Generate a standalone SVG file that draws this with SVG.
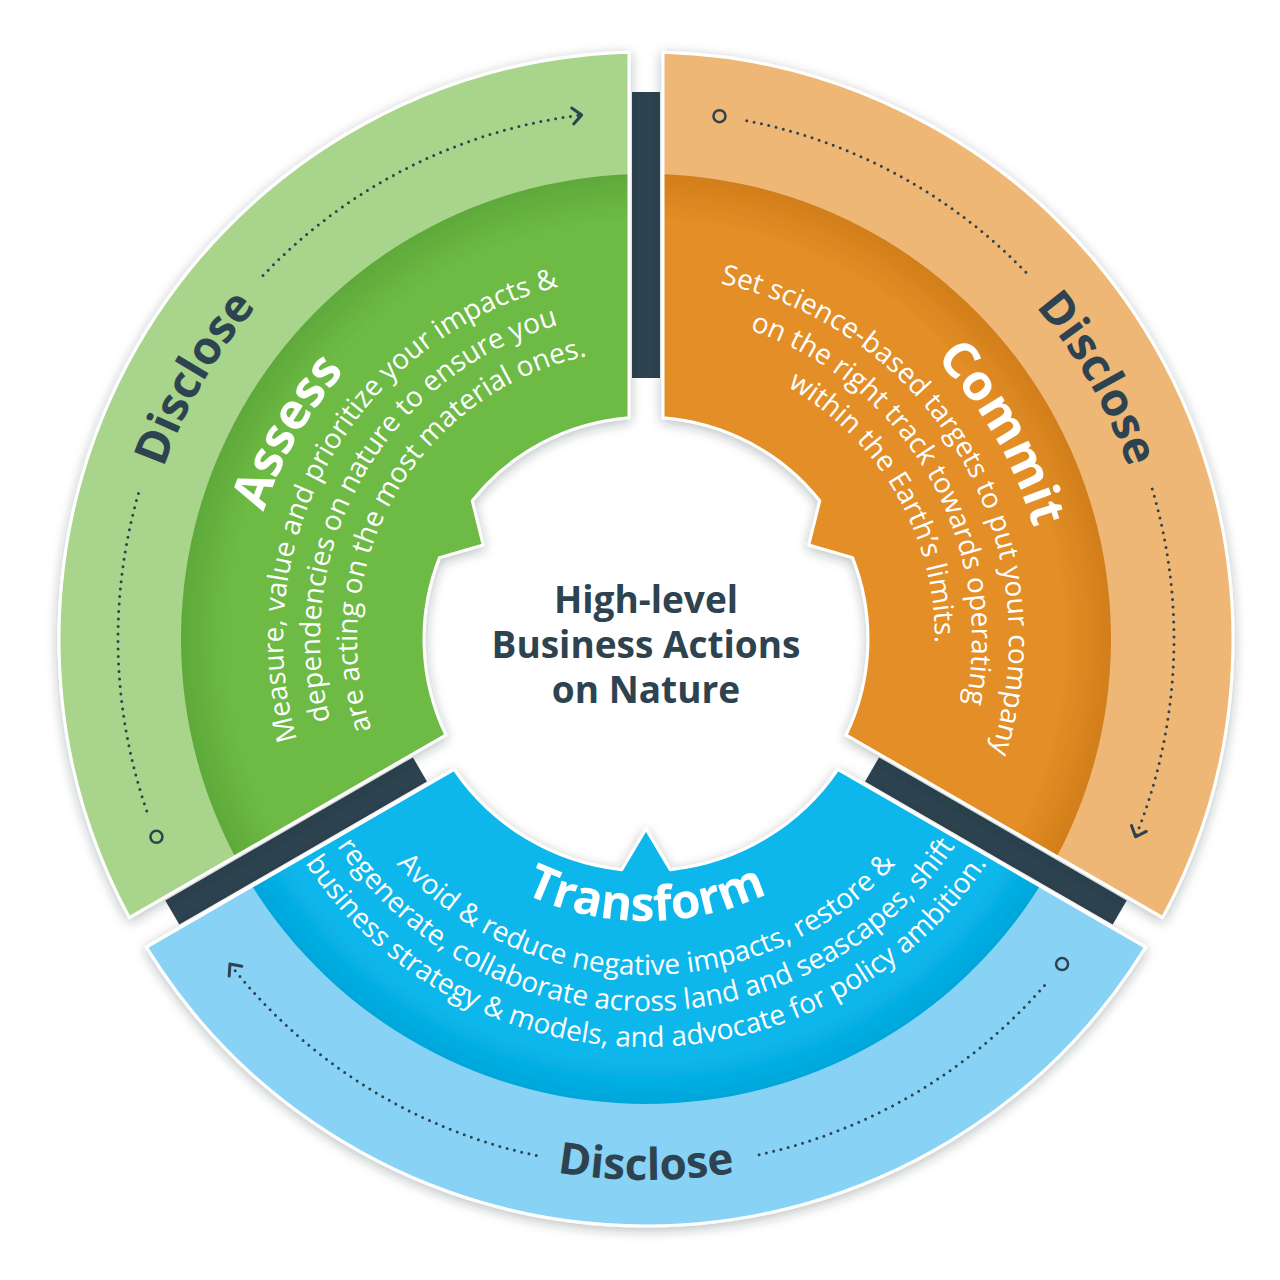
<svg xmlns="http://www.w3.org/2000/svg" width="1280" height="1280" viewBox="0 0 1280 1280">
<style>
.outline{fill:none;stroke:#ffffff;stroke-width:3;stroke-linejoin:round}
.bar{fill:#2d4350}
.dots{fill:none;stroke:#2d4350;stroke-width:3;stroke-linecap:round;stroke-dasharray:0 7.5}
.ring{fill:none;stroke:#2d4350;stroke-width:2.5}
.disc{font-family:"Open Sans","DejaVu Sans",sans-serif;font-weight:700;font-size:46px;fill:#2d4350;text-anchor:middle}
.title{font-family:"Open Sans","DejaVu Sans",sans-serif;font-weight:700;font-size:50px;fill:#ffffff;text-anchor:middle}
.body{font-family:"Open Sans","DejaVu Sans",sans-serif;font-weight:400;font-size:28px;fill:#ffffff;text-anchor:middle}
.center{font-family:"Open Sans","DejaVu Sans",sans-serif;font-weight:700;font-size:37px;fill:#2d4350;text-anchor:middle}
</style>
<defs>
<filter id="sh" x="-15%" y="-15%" width="130%" height="130%">
<feDropShadow dx="0" dy="3" stdDeviation="6" flood-color="#1d2b33" flood-opacity="0.3"/>
</filter>
<radialGradient id="gG" gradientUnits="userSpaceOnUse" cx="646" cy="639" r="465">
<stop offset="0" stop-color="#6dbb44"/><stop offset="0.9" stop-color="#6dbb44"/><stop offset="1" stop-color="#5fa93a"/>
</radialGradient>
<radialGradient id="gO" gradientUnits="userSpaceOnUse" cx="646" cy="639" r="465">
<stop offset="0" stop-color="#e38e25"/><stop offset="0.9" stop-color="#e38e25"/><stop offset="1" stop-color="#d17e1b"/>
</radialGradient>
<radialGradient id="gB" gradientUnits="userSpaceOnUse" cx="646" cy="639" r="465">
<stop offset="0" stop-color="#08b7ec"/><stop offset="0.9" stop-color="#08b7ec"/><stop offset="1" stop-color="#04a6da"/>
</radialGradient>
<marker id="arr" viewBox="-13 -11 16 22" markerWidth="16" markerHeight="22" refX="0" refY="0" orient="auto" markerUnits="userSpaceOnUse">
<path d="M-9,-8 L0,0 L-9,8" fill="none" stroke="#2d4350" stroke-width="3" stroke-linecap="round" stroke-linejoin="round"/>
</marker>
<path id="pGd" d="M 316.89 1031.21 A 512 512 0 0 1 821.11 157.88"/>
<path id="pGt" d="M 386.96 947.71 A 403 403 0 0 1 783.83 260.30"/>
<path id="pG1" d="M 412.67 917.07 A 363 363 0 0 1 770.15 297.89"/>
<path id="pG2" d="M 436.45 888.73 A 326 326 0 0 1 757.50 332.66"/>
<path id="pG3" d="M 460.23 860.39 A 289 289 0 0 1 744.84 367.43"/>
<path id="pOd" d="M 470.89 157.88 A 512 512 0 0 1 975.11 1031.21"/>
<path id="pOt" d="M 508.17 260.30 A 403 403 0 0 1 905.04 947.71"/>
<path id="pO1" d="M 521.85 297.89 A 363 363 0 0 1 879.33 917.07"/>
<path id="pO2" d="M 534.50 332.66 A 326 326 0 0 1 855.55 888.73"/>
<path id="pO3" d="M 547.16 367.43 A 289 289 0 0 1 831.77 860.39"/>
<path id="pBd" d="M 113.22 732.94 A 541 541 0 0 0 1178.78 732.94"/>
<path id="pBt" d="M 368.28 687.97 A 282 282 0 0 0 923.72 687.97"/>
<path id="pB1" d="M 315.10 697.35 A 336 336 0 0 0 976.90 697.35"/>
<path id="pB2" d="M 279.65 703.60 A 372 372 0 0 0 1012.35 703.60"/>
<path id="pB3" d="M 244.20 709.85 A 408 408 0 0 0 1047.80 709.85"/>
</defs>
<rect width="1280" height="1280" fill="#ffffff"/>

<g id="dividers">
<rect class="bar" x="632" y="92" width="28" height="286"/>
<rect class="bar" x="632" y="92" width="28" height="286" transform="rotate(120 646 639)"/>
<rect class="bar" x="632" y="92" width="28" height="286" transform="rotate(-120 646 639)"/>
</g>

<g id="assess">
<g filter="url(#sh)">
<path fill="#a9d48c" d="M 629 52.25 A 587 587 0 0 0 129.37 917.66 L 445.81 734.96 A 222 222 0 0 1 439.45 557.64 L 483.19 545 L 472.26 500.80 A 222 222 0 0 1 629 417.65 Z"/>
<path fill="url(#gG)" d="M 629 174.31 A 465 465 0 0 0 235.08 856.63 L 445.81 734.96 A 222 222 0 0 1 439.45 557.64 L 483.19 545 L 472.26 500.80 A 222 222 0 0 1 629 417.65 Z"/>
<path class="outline" d="M 629 52.25 A 587 587 0 0 0 129.37 917.66 L 445.81 734.96 A 222 222 0 0 1 439.45 557.64 L 483.19 545 L 472.26 500.80 A 222 222 0 0 1 629 417.65 Z"/>
</g>
<text class="disc"><textPath href="#pGd" startOffset="50%">Disclose</textPath></text>
<text class="title"><textPath href="#pGt" startOffset="50%">Assess</textPath></text>
<text class="body"><textPath href="#pG1" startOffset="50%">Measure, value and prioritize your impacts &amp;</textPath></text>
<text class="body"><textPath href="#pG2" startOffset="50%">dependencies on nature to ensure you</textPath></text>
<text class="body"><textPath href="#pG3" startOffset="50%">are acting on the most material ones.</textPath></text>
</g>

<g id="commit">
<g filter="url(#sh)">
<path fill="#efb774" d="M 663 52.25 A 587 587 0 0 1 1162.63 917.66 L 846.19 734.96 A 222 222 0 0 0 852.55 557.64 L 808.81 545 L 819.74 500.80 A 222 222 0 0 0 663 417.65 Z"/>
<path fill="url(#gO)" d="M 663 174.31 A 465 465 0 0 1 1056.92 856.63 L 846.19 734.96 A 222 222 0 0 0 852.55 557.64 L 808.81 545 L 819.74 500.80 A 222 222 0 0 0 663 417.65 Z"/>
<path class="outline" d="M 663 52.25 A 587 587 0 0 1 1162.63 917.66 L 846.19 734.96 A 222 222 0 0 0 852.55 557.64 L 808.81 545 L 819.74 500.80 A 222 222 0 0 0 663 417.65 Z"/>
</g>
<text class="disc"><textPath href="#pOd" startOffset="50%">Disclose</textPath></text>
<text class="title"><textPath href="#pOt" startOffset="50%">Commit</textPath></text>
<text class="body"><textPath href="#pO1" startOffset="50%">Set science-based targets to put your company</textPath></text>
<text class="body"><textPath href="#pO2" startOffset="50%">on the right track towards operating</textPath></text>
<text class="body"><textPath href="#pO3" startOffset="50%">within the Earth’s limits.</textPath></text>
</g>

<g id="transform">
<g filter="url(#sh)">
<path fill="#88d3f5" d="M 146.37 947.1 A 587 587 0 0 0 1145.63 947.1 L 837.87 769.41 A 232 232 0 0 1 670.25 869.73 L 646 829 L 621.75 869.73 A 232 232 0 0 1 454.13 769.41 Z"/>
<path fill="url(#gB)" d="M 252.08 886.07 A 465 465 0 0 0 1039.92 886.07 L 837.87 769.41 A 232 232 0 0 1 670.25 869.73 L 646 829 L 621.75 869.73 A 232 232 0 0 1 454.13 769.41 Z"/>
<path class="outline" d="M 146.37 947.1 A 587 587 0 0 0 1145.63 947.1 L 837.87 769.41 A 232 232 0 0 1 670.25 869.73 L 646 829 L 621.75 869.73 A 232 232 0 0 1 454.13 769.41 Z"/>
</g>
<text class="disc" style="font-size:44px"><textPath href="#pBd" startOffset="50%">Disclose</textPath></text>
<text class="title" style="font-size:48px"><textPath href="#pBt" startOffset="50%">Transform</textPath></text>
<text class="body"><textPath href="#pB1" startOffset="50%">Avoid &amp; reduce negative impacts, restore &amp;</textPath></text>
<text class="body"><textPath href="#pB2" startOffset="50%">regenerate, collaborate across land and seascapes, shift</textPath></text>
<text class="body"><textPath href="#pB3" startOffset="50%">business strategy &amp; models, and advocate for policy ambition.</textPath></text>
</g>

<g id="center">
<text class="center" x="646" y="613">High-level</text>
<text class="center" x="646" y="658">Business Actions</text>
<text class="center" x="646" y="703">on Nature</text>
</g>

<g id="connectors">
<circle class="ring" cx="156.45" cy="836.79" r="6"/>
<path class="dots" d="M 146.77 810.90 A 528 528 0 0 1 139.74 489.04"/>
<path class="dots" d="M 263.0 275.55 A 528 528 0 0 1 581.65 114.93" marker-end="url(#arr)"/>
<circle class="ring" cx="719.48" cy="116.14" r="6"/>
<path class="dots" d="M 746.75 120.70 A 528 528 0 0 1 1029.0 275.55"/>
<path class="dots" d="M 1152.26 489.04 A 528 528 0 0 1 1135.55 836.79" marker-end="url(#arr)"/>
<circle class="ring" cx="1062.07" cy="964.07" r="6"/>
<path class="dots" d="M 1044.49 985.40 A 528 528 0 0 1 755.78 1155.46"/>
<path class="dots" d="M 536.22 1155.46 A 528 528 0 0 1 229.93 964.07" marker-end="url(#arr)"/>
</g>
</svg>
